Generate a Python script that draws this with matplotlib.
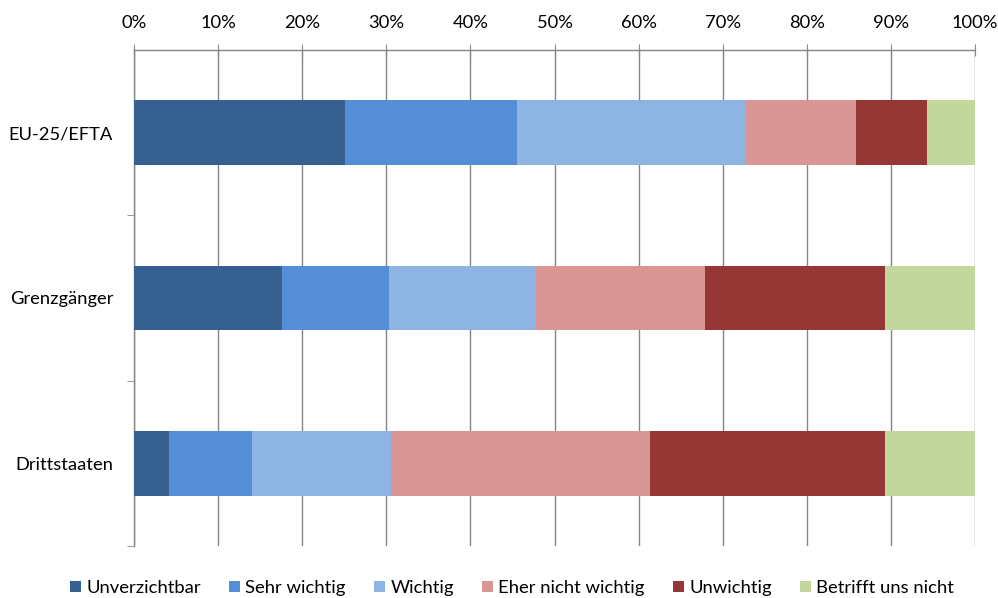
import matplotlib
matplotlib.use("Agg")
import matplotlib.pyplot as plt
import numpy as np

categories = ["EU-25/EFTA", "Grenzgänger", "Drittstaaten"]
series_names = ["Unverzichtbar", "Sehr wichtig", "Wichtig", "Eher nicht wichtig", "Unwichtig", "Betrifft uns nicht"]
unverzichtbar = [25.1, 17.6, 4.2]
sehr_wichtig = [20.4, 12.7, 9.8]
wichtig = [27.1, 17.5, 16.6]
eher_nicht = [13.3, 20.1, 30.8]
unwichtig = [8.4, 21.4, 27.9]
betrifft_nicht = [5.7, 10.7, 10.7]
colors = ["#376092", "#558ED5", "#8EB4E3", "#D99694", "#953735", "#C3D69B"]
xticklabels = ["0%", "10%", "20%", "30%", "40%", "50%", "60%", "70%", "80%", "90%", "100%"]

plt.rcParams['font.family'] = ['Lato', 'DejaVu Sans']

fig = plt.figure(figsize=(9.98, 5.98), dpi=100)
ax = fig.add_axes([134/998, 1-546/598, (975-134)/998, (546-50)/598])

series = [unverzichtbar, sehr_wichtig, wichtig, eher_nicht, unwichtig, betrifft_nicht]
y = np.arange(len(categories))
left = np.zeros(len(categories))
for name, vals, c in zip(series_names, series, colors):
    vals = np.array(vals)
    ax.barh(y, vals, left=left, height=0.39, color=c, label=name, zorder=3)
    left += vals

ax.set_xlim(0, 100)
ax.set_ylim(2.5, -0.5)
ax.xaxis.tick_top()
ax.set_xticks(np.arange(0, 101, 10))
ax.set_xticklabels(xticklabels, fontsize=13.2)
ax.tick_params(axis='x', direction='inout', length=8, color='#868686', pad=10)
ax.grid(axis='x', color='#868686', linewidth=1, zorder=0)

ax.set_yticks(y)
ax.set_yticklabels(categories, fontsize=13.2)
ax.set_yticks([0.5, 1.5, 2.5], minor=True)
ax.tick_params(axis='y', which='major', length=0, pad=15)
ax.tick_params(axis='y', which='minor', length=5, color='#868686', direction='out')

for s in ['right', 'bottom']:
    ax.spines[s].set_visible(False)
for s in ['top', 'left']:
    ax.spines[s].set_color('#868686')
    ax.spines[s].set_linewidth(1)

ax.legend(loc='center', bbox_to_anchor=(512/998, 1-588/598), bbox_transform=fig.transFigure,
          ncol=6, frameon=False, fontsize=13.3, handlelength=0.6, handleheight=0.6,
          handletextpad=0.3, columnspacing=1.5)

fig.savefig("out.png", dpi=100)
